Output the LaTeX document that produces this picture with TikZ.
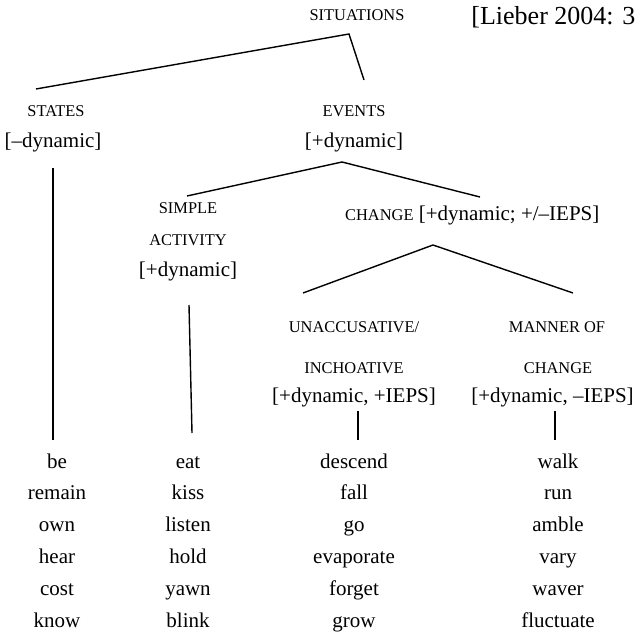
\documentclass[tikz,border=0pt]{standalone}
\usepackage{fontspec}
\setmainfont{Liberation Serif}
\newcommand{\sclab}{\fontsize{16.4}{19}\selectfont}
\newcommand{\mainsz}{\fontsize{21}{25}\selectfont}
\begin{document}
\begin{tikzpicture}[x=1pt,y=-1pt,
  lab/.style={inner sep=0pt,anchor=base,font=\sclab},
  feat/.style={inner sep=0pt,anchor=base,font=\mainsz},
  leaf/.style={inner sep=0pt,anchor=base,font=\mainsz},
  branch/.style={line width=1.4pt,line join=miter}]
\useasboundingbox (0,0) rectangle (636,636);
% labels
\node[lab] (sit) at (357,21) {SITUATIONS};
\node[inner sep=0pt,anchor=base east,font=\fontsize{26}{30}\selectfont] (lieber) at (635.5,25) {[Lieber 2004: 3};
\node[lab] (states) at (56,117) {STATES};
\node[feat] (statesf) at (53,148) {[–dynamic]};
\node[lab] (events) at (354,117) {EVENTS};
\node[feat] (eventsf) at (354,148) {[+dynamic]};
\node[lab] (simple1) at (188,213) {SIMPLE};
\node[lab] (simple2) at (188,245) {ACTIVITY};
\node[feat] (simplef) at (188,276) {[+dynamic]};
\node[inner sep=0pt,anchor=base west,font=\mainsz] (change) at (345,220) {{\sclab CHANGE} [+dynamic; +/–IEPS]};
\node[lab] (unacc1) at (354,332) {UNACCUSATIVE/};
\node[lab] (unacc2) at (354,373) {INCHOATIVE};
\node[feat] (unaccf) at (354,402) {[+dynamic, +IEPS]};
\node[lab] (manner1) at (557,332) {MANNER OF};
\node[lab] (manner2) at (558,373) {CHANGE};
\node[feat] (mannerf) at (552.5,402) {[+dynamic, –IEPS]};
% branch points
\coordinate (sitA) at (349,34);
\coordinate (sitL) at (36,89);
\coordinate (sitR) at (364,80);
\coordinate (evA) at (342,162);
\coordinate (evL) at (187,196);
\coordinate (evR) at (480,197);
\coordinate (chA) at (433,245);
\coordinate (chL) at (303,293);
\coordinate (chR) at (573,293);
\coordinate (stT) at (53,168);
\coordinate (stB) at (53,440);
\coordinate (saT) at (189,305);
\coordinate (saB) at (192,433);
\coordinate (unT) at (358,411);
\coordinate (unB) at (358,440);
\coordinate (maT) at (555,411);
\coordinate (maB) at (555,440);
\draw[branch] (sitL) -- (sitA) -- (sitR);
\draw[branch] (evL) -- (evA) -- (evR);
\draw[branch] (chL) -- (chA) -- (chR);
\draw[branch] (stT) -- (stB);
\draw[branch] (saT) -- (saB);
\draw[branch] (unT) -- (unB);
\draw[branch] (maT) -- (maB);
% leaves
\foreach \w [count=\i from 0] in {be,remain,own,hear,cost,know}
  \node[leaf] (s\i) at (57,468+31.8*\i) {\w};
\foreach \w [count=\i from 0] in {eat,kiss,listen,hold,yawn,blink}
  \node[leaf] (a\i) at (188,468+31.8*\i) {\w};
\foreach \w [count=\i from 0] in {descend,fall,go,evaporate,forget,grow}
  \node[leaf] (u\i) at (354,468+31.8*\i) {\w};
\foreach \w [count=\i from 0] in {walk,run,amble,vary,waver,fluctuate}
  \node[leaf] (m\i) at (558,468+31.8*\i) {\w};
\end{tikzpicture}
\end{document}
